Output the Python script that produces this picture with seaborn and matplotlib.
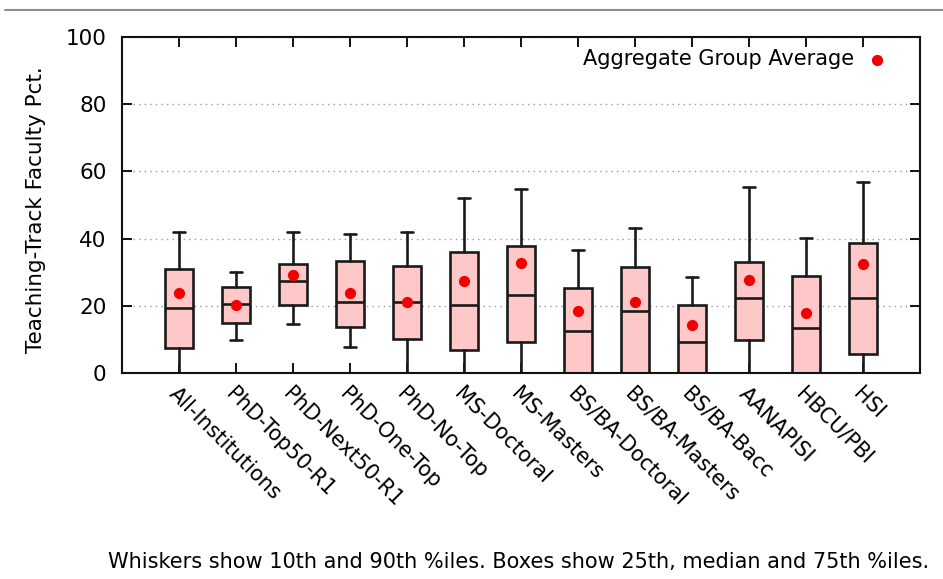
import numpy as np
import matplotlib
matplotlib.use("Agg")
import matplotlib.pyplot as plt
from matplotlib.lines import Line2D
import seaborn as sns

# Institution groups and their teaching-track faculty percentage distributions
groups = ["All-Institutions", "PhD-Top50-R1", "PhD-Next50-R1", "PhD-One-Top",
          "PhD-No-Top", "MS-Doctoral", "MS-Masters", "BS/BA-Doctoral",
          "BS/BA-Masters", "BS/BA-Bacc", "AANAPISI", "HBCU/PBI", "HSI"]
pct10 = [0.0, 9.7, 14.5, 7.8, 0.0, 0.0, 0.0, 0.0, 0.0, 0.0, 0.0, 0.0, 0.0]
pct25 = [7.4, 14.8, 20.1, 13.7, 10.2, 6.8, 9.1, 0.0, 0.0, 0.0, 9.9, 0.0, 5.8]
median = [19.3, 20.4, 27.3, 21.1, 21.0, 20.1, 23.2, 12.6, 18.4, 9.2, 22.4, 13.5, 22.4]
pct75 = [31.0, 25.5, 32.3, 33.4, 31.9, 35.9, 37.7, 25.2, 31.5, 20.1, 33.0, 28.8, 38.7]
pct90 = [42.0, 30.2, 42.1, 41.3, 41.9, 52.2, 54.8, 36.6, 43.1, 28.7, 55.3, 40.1, 56.7]
group_avg = [23.9, 20.1, 29.1, 23.9, 21.1, 27.5, 32.6, 18.4, 21.1, 14.2, 27.7, 17.8, 32.4]
yticks = [0, 20, 40, 60, 80, 100]

sns.set_style("ticks")
plt.rcParams["font.family"] = ["DejaVu Sans"]
plt.rcParams["text.color"] = "black"
plt.rcParams["axes.labelcolor"] = "black"
plt.rcParams["xtick.color"] = "black"
plt.rcParams["ytick.color"] = "black"

fig = plt.figure(figsize=(9.43, 5.79), dpi=100)
ax = fig.add_axes([122 / 943, 1 - 373 / 579, (920 - 122) / 943, (373 - 37) / 579])

positions = np.arange(1, len(groups) + 1)
stats = [dict(whislo=lo, q1=a, med=m, q3=b, whishi=hi, label=g)
         for g, lo, a, m, b, hi in zip(groups, pct10, pct25, median, pct75, pct90)]

edge = "#1a1a1a"
ax.bxp(stats, positions=positions, widths=0.5, showfliers=False,
       patch_artist=True,
       boxprops=dict(facecolor="#ffc8c8", edgecolor=edge, linewidth=1.9),
       medianprops=dict(color=edge, linewidth=1.9),
       whiskerprops=dict(color=edge, linewidth=1.9),
       capprops=dict(color=edge, linewidth=1.9),
       capwidths=0.2, zorder=3)

sns.scatterplot(x=positions, y=group_avg, color="#f00000", s=65, linewidth=0,
                ax=ax, zorder=4, label="Aggregate Group Average")

ax.set_xlim(0, len(groups) + 1)
ax.set_ylim(0, 100)
ax.set_yticks(yticks)
ax.set_xticks(positions)
ax.set_xticklabels(groups, rotation=-45, ha="left", va="top",
                   rotation_mode="anchor", fontsize=15)
ax.tick_params(axis="y", labelsize=15.5, direction="in", length=7, width=1.3,
               right=True, pad=11)
ax.tick_params(axis="x", direction="in", length=7, width=1.3, top=True, pad=8)

ax.yaxis.grid(True, linestyle=(0, (1, 3)), color="#999999", linewidth=1.0)
ax.set_axisbelow(True)
for s in ax.spines.values():
    s.set_linewidth(1.5)
    s.set_color("#111111")
    s.set_zorder(5)

ax.set_ylabel("Teaching-Track Faculty Pct.", fontsize=15.5)
ax.yaxis.set_label_coords(-0.095, 0.485)
ax.set_xlabel("")

ax.legend(loc="center right", bbox_to_anchor=(0.9618, 0.9345), frameon=False,
          markerfirst=False, fontsize=15, handletextpad=0.5, borderpad=0,
          borderaxespad=0, handlelength=1.2)

fig.text(0.55, 1 - 562 / 579,
         "Whiskers show 10th and 90th %iles. Boxes show 25th, median and 75th %iles.",
         ha="center", va="center", fontsize=15)

fig.add_artist(Line2D([5 / 943, 1.0], [1 - 10 / 579, 1 - 10 / 579],
                      color="#8c8c8c", linewidth=1.5))

fig.savefig("out.png", dpi=100, facecolor="white")
